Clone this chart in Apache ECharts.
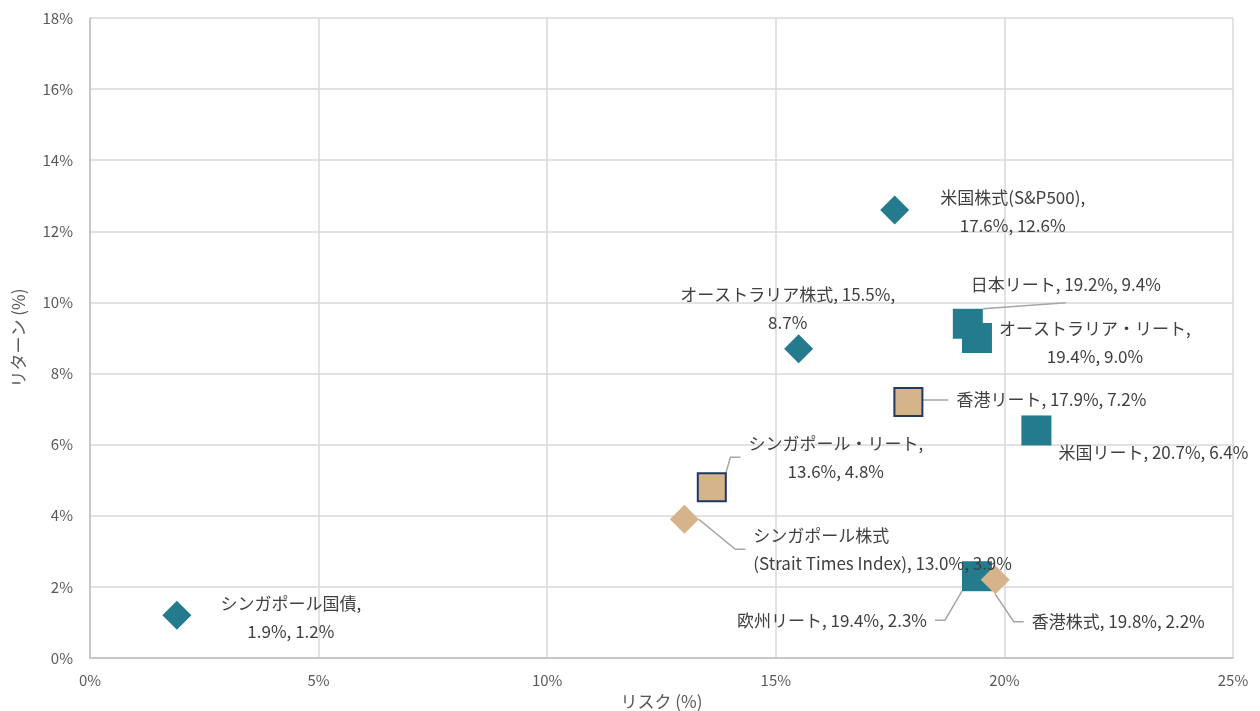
<!DOCTYPE html>
<html>
<head>
<meta charset="utf-8">
<title>リスク・リターン</title>
<script src="https://cdn.jsdelivr.net/npm/echarts@6/dist/echarts.min.js"></script>
<style>
  html, body { margin: 0; padding: 0; background: #fff; }
  #chart { width: 1260px; height: 711px; }
</style>
</head>
<body>
<div id="chart"></div>
<script>
// 資産クラス別 リスク・リターン
var names = [
  '米国株式(S&P500)', 'オーストラリア株式', '日本リート', 'オーストラリア・リート',
  '香港リート', '米国リート', 'シンガポール・リート', 'シンガポール株式',
  '欧州リート', '香港株式', 'シンガポール国債'
];
var risk = [17.6, 15.5, 19.2, 19.4, 17.9, 20.7, 13.6, 13.0, 19.4, 19.8, 1.9];
var ret  = [12.6, 8.7, 9.4, 9.0, 7.2, 6.4, 4.8, 3.9, 2.3, 2.2, 1.2];
// 株式 = diamond, リート = square
var kind = ['stock', 'stock', 'reit', 'reit', 'reit', 'reit', 'reit', 'stock', 'reit', 'stock', 'stock'];
// シンガポール・香港 = tan
var asia = [false, false, false, false, true, false, true, true, false, true, false];

var xTicks = [0, 5, 10, 15, 20, 25];
var yTicks = [0, 2, 4, 6, 8, 10, 12, 14, 16, 18];

var teal = '#257b8e';
var tan = '#d5b48b';
var navy = '#1f3864';

function labelText(i) {
  var v = risk[i].toFixed(1) + '%, ' + ret[i].toFixed(1) + '%';
  switch (i) {
    case 1: return names[i] + ', ' + risk[i].toFixed(1) + '%,\n' + ret[i].toFixed(1) + '%';
    case 7: return names[i] + '\n(Strait Times Index), ' + v;
    case 0: case 3: case 6: case 10: return names[i] + ',\n' + v;
    default: return names[i] + ', ' + v;
  }
}

// label offsets from point centre, guide lines
var lay = [
  {dx: 118, dy: 2, line: false},
  {dx: -11, dy: -40, line: false},
  {dx: 98, dy: -39, line: true, len: 0, pad: [0, 130, 8, 130]},
  {dx: 118, dy: 5, line: false},
  {dx: 143, dy: -2, line: true},
  {dx: 117, dy: 22, line: false},
  {dx: 124, dy: -30, line: true},
  {dx: 61, dy: 30, line: true, align: 'left'},
  {dx: -145, dy: 44, line: true},
  {dx: 123, dy: 42, line: true},
  {dx: 114, dy: 2, line: false}
];

var data = names.map(function (n, i) {
  var square = kind[i] === 'reit';
  var framed = square && asia[i];
  return {
    name: n,
    value: [risk[i], ret[i]],
    symbol: square ? 'rect' : 'diamond',
    symbolSize: square ? (framed ? 28 : 30) : 29,
    itemStyle: {
      color: asia[i] ? tan : teal,
      opacity: 1,
      borderColor: framed ? navy : 'transparent',
      borderWidth: framed ? 2 : 0
    },
    label: {
      formatter: labelText(i),
      align: lay[i].align || 'center',
      padding: lay[i].pad || [0, 8]
    },
    labelLine: {
      show: lay[i].line,
      length2: lay[i].len != null ? lay[i].len : 10
    }
  };
});

var chart = echarts.init(document.getElementById('chart'));
chart.setOption({
  animation: false,
  textStyle: { fontFamily: '"Noto Sans CJK JP", "Noto Sans", sans-serif' },
  grid: { left: 90, right: 27, top: 18, bottom: 53, outerBoundsMode: 'none', containLabel: false },
  xAxis: {
    type: 'value',
    min: xTicks[0],
    max: xTicks[xTicks.length - 1],
    interval: 5,
    name: 'リスク (%)',
    nameLocation: 'middle',
    nameGap: 32,
    nameTextStyle: { color: '#595959', fontSize: 17 },
    axisLine: { show: true, lineStyle: { color: '#bfbfbf', width: 1.5 } },
    axisTick: { show: false },
    axisLabel: { color: '#595959', fontSize: 15, margin: 15, formatter: '{value}%' },
    splitLine: { show: true, lineStyle: { color: '#d9d9d9', width: 1.5 } }
  },
  yAxis: {
    type: 'value',
    min: yTicks[0],
    max: yTicks[yTicks.length - 1],
    interval: 2,
    name: 'リターン (%)',
    nameLocation: 'middle',
    nameGap: 63,
    nameTextStyle: { color: '#595959', fontSize: 17 },
    axisLine: { show: true, lineStyle: { color: '#bfbfbf', width: 1.5 } },
    axisTick: { show: false },
    axisLabel: { color: '#595959', fontSize: 15, margin: 17, formatter: '{value}%' },
    splitLine: { show: true, lineStyle: { color: '#d9d9d9', width: 1.5 } }
  },
  series: [{
    type: 'scatter',
    data: data,
    label: {
      show: true,
      position: 'inside',
      color: '#404040',
      fontSize: 17,
      lineHeight: 28
    },
    labelLine: {
      show: true,
      lineStyle: { color: '#a6a6a6', width: 1.5 }
    },
    labelLayout: function (p) {
      var l = lay[p.dataIndex];
      return { dx: l.dx, dy: l.dy };
    },
    emphasis: { disabled: true }
  }]
});
</script>
</body>
</html>
